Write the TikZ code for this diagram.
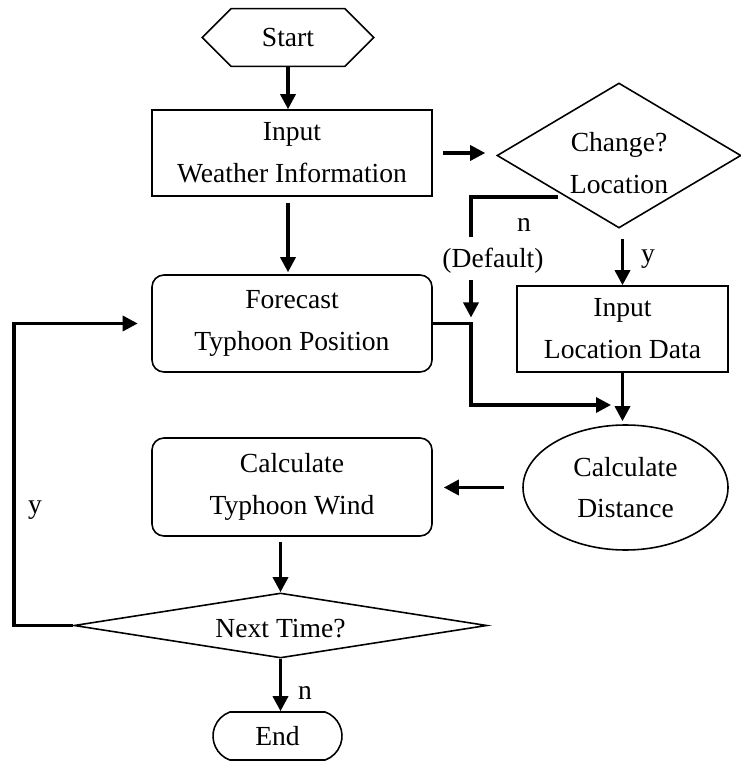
\documentclass[tikz,border=0pt]{standalone}
\usepackage{fontspec}
\setmainfont{Liberation Serif}
\usetikzlibrary{shapes.geometric,shapes.misc,arrows.meta,calc}
\tikzset{
  boite/.style={draw,line width=0.9pt,minimum width=5.6cm,align=center,inner sep=0pt},
  arrondi/.style={boite,rounded corners=0.24cm},
  losange/.style={draw,line width=0.9pt,diamond,inner sep=0pt,align=center},
  fleche/.style={line width=1.9pt,-{Triangle[length=0.3cm,width=0.3cm]}},
  trait/.style={line width=1.9pt}
}
\begin{document}
\begin{tikzpicture}[font=\fontsize{15.7}{23.8}\selectfont] % organigramme du typhon
\useasboundingbox (0,0) rectangle (14.8,-15.28);

\node[minimum width=3.42cm,minimum height=1.14cm,inner sep=0pt] (start) at (5.76,-0.75) {Start};
\draw[line width=0.9pt] (start.west) -- ($(start.north west)+(0.58,0)$) -- ($(start.north east)+(-0.58,0)$)
  -- (start.east) -- ($(start.south east)+(-0.58,0)$) -- ($(start.south west)+(0.58,0)$) -- cycle;

\node[boite,minimum height=1.72cm] (meteo) at (5.84,-3.06) {Input\\Weather Information};
\node[arrondi,minimum height=1.94cm] (prevision) at (5.84,-6.47) {Forecast\\Typhoon Position};
\node[arrondi,minimum height=1.96cm] (vent) at (5.84,-9.74) {Calculate\\Typhoon Wind};
\node[losange,aspect=1.68,text height=1.51cm,minimum width=4.88cm,minimum height=2.9cm] (choix) at (12.38,-3.11) {Change?\\Location};
\node[boite,minimum width=4.22cm,minimum height=1.72cm] (lieu) at (12.45,-6.58) {Input\\Location Data};
\node[draw,line width=0.9pt,ellipse,minimum width=4.1cm,minimum height=2.5cm,align=center,inner sep=0pt] (distance) at (12.51,-9.75) {Calculate\\Distance};
\node[losange,aspect=6.35,text height=0.58cm,text depth=0.12cm,minimum width=8.26cm,minimum height=1.3cm] (suivant) at (5.61,-12.51) {Next Time?};
\node[draw,line width=0.9pt,rounded rectangle,rounded rectangle arc length=140,minimum width=2.58cm,minimum height=0.96cm,inner sep=0pt] (fin) at (5.55,-14.72) {End};

\coordinate (nfin) at (9.42,-4.74);
\coordinate (coude) at (9.42,-6.47);
\coordinate (joint) at (12.22,-8.1);
\coordinate (boucle) at (0.28,-12.51);

\draw[fleche] (start.south) -- (start.south |- meteo.north);
\draw[fleche,shorten <=0.2cm,shorten >=0.22cm] (meteo.east) -- (meteo.east -| choix.west);
\draw[fleche,shorten <=0.12cm,shorten >=0.04cm] (meteo.south -| start.south) -- (prevision.north -| start.south);
\draw[trait] ($(choix.south west)+(0,-0.1)$) -| (nfin);
\draw[fleche,shorten <=0.86cm,shorten >=0.12cm] (nfin) -- (coude);
\draw[fleche,shorten <=0.2cm] (choix.south -| lieu.north) -- (lieu.north);
\draw[fleche] (prevision.east) -- (coude) |- (joint);
\draw[fleche,shorten >=0.06cm] (lieu.south) -- (lieu.south |- distance.north);
\draw[fleche,shorten <=0.36cm,shorten >=0.22cm] (distance.west) -- (distance.west -| vent.east);
\draw[fleche,shorten <=0.1cm] (vent.south -| suivant.north) -- (suivant.north);
\draw[fleche,shorten >=0.27cm] (suivant.west) -- (boucle) |- (prevision.west);
\draw[fleche] (suivant.south) -- (suivant.south |- fin.north);

\node[anchor=base] (n1) at (10.48,-4.64) {n};
\node[anchor=base] (defaut) at (9.86,-5.36) {(Default)};
\node[anchor=base] (y1) at (12.96,-5.26) {y};
\node[anchor=base] (y2) at (0.7,-10.26) {y};
\node[anchor=base] (n2) at (6.1,-13.98) {n};

\end{tikzpicture}
\end{document}
